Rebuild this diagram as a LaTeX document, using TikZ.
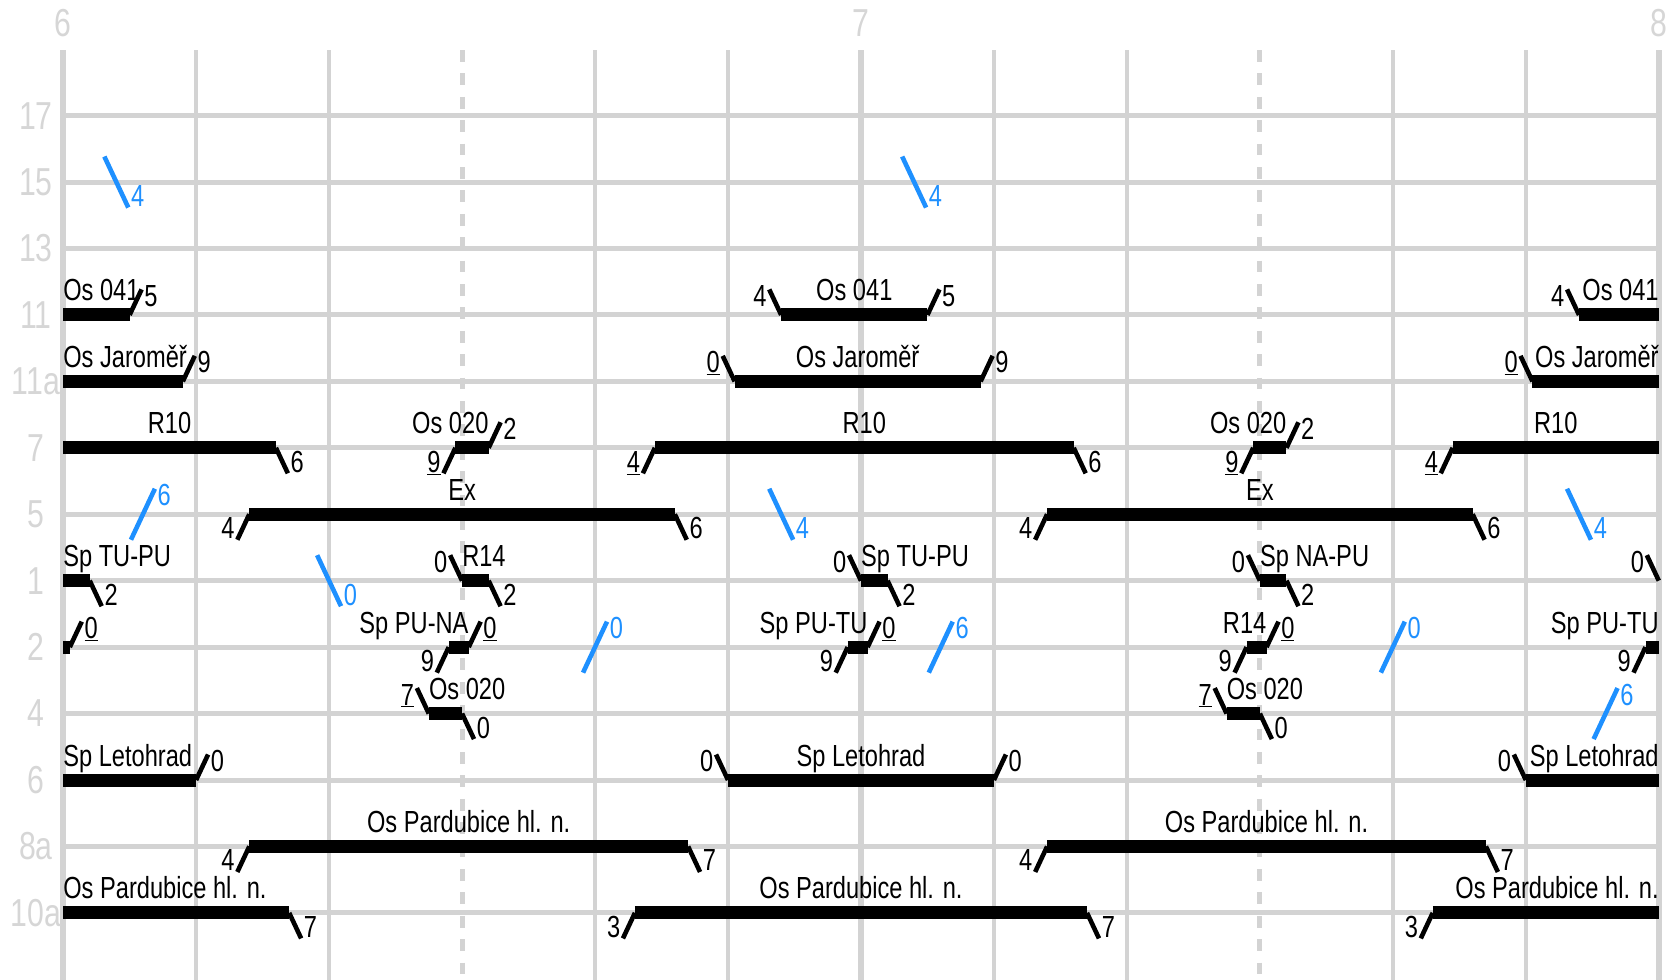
\documentclass[tikz,border=0pt]{standalone}
\usepackage{fontspec}
\setmainfont{Liberation Sans}[FakeStretch=0.775]
\usepackage{tikz}

\definecolor{gridgray}{RGB}{211,211,211}
\definecolor{axisgray}{RGB}{214,214,214}
\definecolor{passblue}{RGB}{30,144,255}

\tikzset{
  trackline/.style={gridgray, line width=5pt},
  gridline/.style={gridgray, line width=4.3pt},
  hourline/.style={gridgray, line width=6pt},
  halfline/.style={gridgray, line width=5pt, dash pattern=on 11.7pt off 11.7pt},
  axislabel/.style={axisgray, inner sep=0pt, font=\fontsize{39}{39}\selectfont},
  occupy/.style={line width=13pt},
  tick/.style={line width=4.6pt},
  pass/.style={passblue, line width=4.6pt},
  train/.style={inner sep=0pt, anchor=base, yshift=14pt, font=\fontsize{30.5}{30.5}\selectfont},
  minute/.style={inner sep=0.5pt, font=\fontsize{30.5}{30.5}\selectfont},
  upright/.style={minute, anchor=base west, yshift=-17pt},
  upleft/.style={minute, anchor=base east, yshift=-17pt},
  downright/.style={minute, anchor=base west, yshift=1pt},
  downleft/.style={minute, anchor=base east, yshift=1pt}
}

\begin{document}
\begin{tikzpicture}[x=13.297pt, y=-66.44pt]
\useasboundingbox (-4.7485,-1.74) rectangle (121.445,13.01);

% Grid - tracks and ten-minute lines
\foreach \r in {0,...,12}
  \draw[trackline] (0,\r) -- (120,\r);
\foreach \k in {1,2,4,5,7,8,10,11}
  \draw[gridline] (10*\k,-0.987) -- (10*\k,13.01);
\foreach \k in {3,9}
  \draw[halfline] (10*\k,-0.987) -- (10*\k,13.01);
\foreach \k in {0,6,12}
  \draw[hourline] (10*\k,-0.987) -- (10*\k,13.01);

% Hours and track numbers
\node[axislabel] (h6) at (0,-1.386) {6};
\node[axislabel] (h7) at (60,-1.386) {7};
\node[axislabel] (h8) at (120,-1.386) {8};
\foreach \lab [count=\i from 0] in {17,15,13,11,11a,7,5,1,2,4,6,8a,10a}
  \node[axislabel] (track\lab) at (-2.05,\i) {\lab};

% Track 11
\draw[occupy] (0,3) -- (5,3);
\draw[tick] (5,3) -- ++(0.9,-0.384) node[upright] {5};
\node[train, anchor=base west] (os041a) at (0,3) {Os 041};
\draw[occupy] (54,3) -- (65,3);
\draw[tick] (54,3) -- ++(-0.9,-0.384) node[upleft] {4};
\draw[tick] (65,3) -- ++(0.9,-0.384) node[upright] {5};
\node[train] (os041b) at (59.5,3) {Os 041};
\draw[occupy] (114,3) -- (120,3);
\draw[tick] (114,3) -- ++(-0.9,-0.384) node[upleft] {4};
\node[train, anchor=base east] (os041c) at (120,3) {Os 041};

% Track 11a
\draw[occupy] (0,4) -- (9,4);
\draw[tick] (9,4) -- ++(0.9,-0.384) node[upright] {9};
\node[train, anchor=base west] (jara) at (0,4) {Os Jaroměř};
\draw[occupy] (50.5,4) -- (69,4);
\draw[tick] (50.5,4) -- ++(-0.9,-0.384) node[upleft] {\underline{0}};
\draw[tick] (69,4) -- ++(0.9,-0.384) node[upright] {9};
\node[train] (jarb) at (59.75,4) {Os Jaroměř};
\draw[occupy] (110.5,4) -- (120,4);
\draw[tick] (110.5,4) -- ++(-0.9,-0.384) node[upleft] {\underline{0}};
\node[train, anchor=base east] (jarc) at (120,4) {Os Jaroměř};

% Track 7
\draw[occupy] (0,5) -- (16,5);
\draw[tick] (16,5) -- ++(0.9,0.384) node[downright] {6};
\node[train] (r10a) at (8,5) {R10};
\draw[occupy] (29.5,5) -- (32,5);
\draw[tick] (29.5,5) -- ++(-0.9,0.384) node[downleft] {\underline{9}};
\draw[tick] (32,5) -- ++(0.9,-0.384) node[upright] {2};
\node[train, anchor=base east] (os020a) at (32,5) {Os 020};
\draw[occupy] (44.5,5) -- (76,5);
\draw[tick] (44.5,5) -- ++(-0.9,0.384) node[downleft] {\underline{4}};
\draw[tick] (76,5) -- ++(0.9,0.384) node[downright] {6};
\node[train] (r10b) at (60.25,5) {R10};
\draw[occupy] (89.5,5) -- (92,5);
\draw[tick] (89.5,5) -- ++(-0.9,0.384) node[downleft] {\underline{9}};
\draw[tick] (92,5) -- ++(0.9,-0.384) node[upright] {2};
\node[train, anchor=base east] (os020b) at (92,5) {Os 020};
\draw[occupy] (104.5,5) -- (120,5);
\draw[tick] (104.5,5) -- ++(-0.9,0.384) node[downleft] {\underline{4}};
\node[train] (r10c) at (112.25,5) {R10};

% Track 5
\draw[occupy] (14,6) -- (46,6);
\draw[tick] (14,6) -- ++(-0.9,0.384) node[downleft] {4};
\draw[tick] (46,6) -- ++(0.9,0.384) node[downright] {6};
\node[train] (exa) at (30,6) {Ex};
\draw[occupy] (74,6) -- (106,6);
\draw[tick] (74,6) -- ++(-0.9,0.384) node[downleft] {4};
\draw[tick] (106,6) -- ++(0.9,0.384) node[downright] {6};
\node[train] (exb) at (90,6) {Ex};

% Track 1
\draw[occupy] (0,7) -- (2,7);
\draw[tick] (2,7) -- ++(0.9,0.384) node[downright] {2};
\node[train, anchor=base west] (tupua) at (0,7) {Sp TU-PU};
\draw[occupy] (30,7) -- (32,7);
\draw[tick] (30,7) -- ++(-0.9,-0.384) node[upleft] {0};
\draw[tick] (32,7) -- ++(0.9,0.384) node[downright] {2};
\node[train, anchor=base west] (r14a) at (30,7) {R14};
\draw[occupy] (60,7) -- (62,7);
\draw[tick] (60,7) -- ++(-0.9,-0.384) node[upleft] {0};
\draw[tick] (62,7) -- ++(0.9,0.384) node[downright] {2};
\node[train, anchor=base west] (tupub) at (60,7) {Sp TU-PU};
\draw[occupy] (90,7) -- (92,7);
\draw[tick] (90,7) -- ++(-0.9,-0.384) node[upleft] {0};
\draw[tick] (92,7) -- ++(0.9,0.384) node[downright] {2};
\node[train, anchor=base west] (napu) at (90,7) {Sp NA-PU};
\draw[tick] (120,7) -- ++(-0.9,-0.384) node[upleft] {0};

% Track 2
\draw[occupy] (0,8) -- (0.5,8);
\draw[tick] (0.5,8) -- ++(0.9,-0.384) node[upright] {\underline{0}};
\draw[occupy] (29,8) -- (30.5,8);
\draw[tick] (29,8) -- ++(-0.9,0.384) node[downleft] {9};
\draw[tick] (30.5,8) -- ++(0.9,-0.384) node[upright] {\underline{0}};
\node[train, anchor=base east] (puna) at (30.5,8) {Sp PU-NA};
\draw[occupy] (59,8) -- (60.5,8);
\draw[tick] (59,8) -- ++(-0.9,0.384) node[downleft] {9};
\draw[tick] (60.5,8) -- ++(0.9,-0.384) node[upright] {\underline{0}};
\node[train, anchor=base east] (putua) at (60.5,8) {Sp PU-TU};
\draw[occupy] (89,8) -- (90.5,8);
\draw[tick] (89,8) -- ++(-0.9,0.384) node[downleft] {9};
\draw[tick] (90.5,8) -- ++(0.9,-0.384) node[upright] {\underline{0}};
\node[train, anchor=base east] (r14b) at (90.5,8) {R14};
\draw[occupy] (119,8) -- (120,8);
\draw[tick] (119,8) -- ++(-0.9,0.384) node[downleft] {9};
\node[train, anchor=base east] (putub) at (120,8) {Sp PU-TU};

% Track 4
\draw[occupy] (27.5,9) -- (30,9);
\draw[tick] (27.5,9) -- ++(-0.9,-0.384) node[upleft] {\underline{7}};
\draw[tick] (30,9) -- ++(0.9,0.384) node[downright] {0};
\node[train, anchor=base west] (os020c) at (27.5,9) {Os 020};
\draw[occupy] (87.5,9) -- (90,9);
\draw[tick] (87.5,9) -- ++(-0.9,-0.384) node[upleft] {\underline{7}};
\draw[tick] (90,9) -- ++(0.9,0.384) node[downright] {0};
\node[train, anchor=base west] (os020d) at (87.5,9) {Os 020};

% Track 6
\draw[occupy] (0,10) -- (10,10);
\draw[tick] (10,10) -- ++(0.9,-0.384) node[upright] {0};
\node[train, anchor=base west] (leta) at (0,10) {Sp Letohrad};
\draw[occupy] (50,10) -- (70,10);
\draw[tick] (50,10) -- ++(-0.9,-0.384) node[upleft] {0};
\draw[tick] (70,10) -- ++(0.9,-0.384) node[upright] {0};
\node[train] (letb) at (60,10) {Sp Letohrad};
\draw[occupy] (110,10) -- (120,10);
\draw[tick] (110,10) -- ++(-0.9,-0.384) node[upleft] {0};
\node[train, anchor=base east] (letc) at (120,10) {Sp Letohrad};

% Track 8a
\draw[occupy] (14,11) -- (47,11);
\draw[tick] (14,11) -- ++(-0.9,0.384) node[downleft] {4};
\draw[tick] (47,11) -- ++(0.9,0.384) node[downright] {7};
\node[train] (para) at (30.5,11) {Os Pardubice hl. n.};
\draw[occupy] (74,11) -- (107,11);
\draw[tick] (74,11) -- ++(-0.9,0.384) node[downleft] {4};
\draw[tick] (107,11) -- ++(0.9,0.384) node[downright] {7};
\node[train] (parb) at (90.5,11) {Os Pardubice hl. n.};

% Track 10a
\draw[occupy] (0,12) -- (17,12);
\draw[tick] (17,12) -- ++(0.9,0.384) node[downright] {7};
\node[train, anchor=base west] (parc) at (0,12) {Os Pardubice hl. n.};
\draw[occupy] (43,12) -- (77,12);
\draw[tick] (43,12) -- ++(-0.9,0.384) node[downleft] {3};
\draw[tick] (77,12) -- ++(0.9,0.384) node[downright] {7};
\node[train] (pard) at (60,12) {Os Pardubice hl. n.};
\draw[occupy] (103,12) -- (120,12);
\draw[tick] (103,12) -- ++(-0.9,0.384) node[downleft] {3};
\node[train, anchor=base east] (pare) at (120,12) {Os Pardubice hl. n.};

% Passing trains - blue
\draw[pass] (4,1) ++(-0.9,-0.384) -- ++(1.8,0.768) node[downright] {4};
\draw[pass] (64,1) ++(-0.9,-0.384) -- ++(1.8,0.768) node[downright] {4};
\draw[pass] (6,6) ++(-0.9,0.384) -- ++(1.8,-0.768) node[upright] {6};
\draw[pass] (54,6) ++(-0.9,-0.384) -- ++(1.8,0.768) node[downright] {4};
\draw[pass] (114,6) ++(-0.9,-0.384) -- ++(1.8,0.768) node[downright] {4};
\draw[pass] (20,7) ++(-0.9,-0.384) -- ++(1.8,0.768) node[downright] {0};
\draw[pass] (40,8) ++(-0.9,0.384) -- ++(1.8,-0.768) node[upright] {0};
\draw[pass] (66,8) ++(-0.9,0.384) -- ++(1.8,-0.768) node[upright] {6};
\draw[pass] (100,8) ++(-0.9,0.384) -- ++(1.8,-0.768) node[upright] {0};
\draw[pass] (116,9) ++(-0.9,0.384) -- ++(1.8,-0.768) node[upright] {6};

\end{tikzpicture}
\end{document}
